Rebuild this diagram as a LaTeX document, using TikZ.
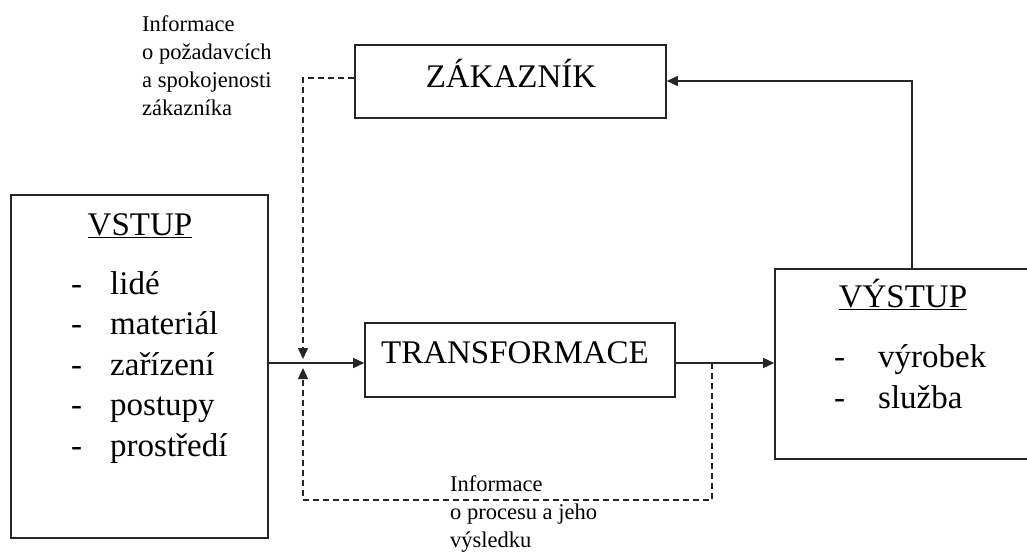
\documentclass[tikz,border=0pt]{standalone}
\usepackage{fontspec}
\setmainfont{Liberation Serif}
\usetikzlibrary{arrows.meta}
\tikzset{
  boxnode/.style={draw=black!85, line width=1.6pt, inner sep=0pt},
  big/.style={font=\fontsize{33}{40}\selectfont, inner sep=0pt},
  small/.style={font=\fontsize{22.5}{28}\selectfont, inner sep=0pt, align=left},
  conn/.style={draw=black!85, line width=1.5pt, -{Triangle[length=11pt,width=10pt]}},
  dconn/.style={draw=black!85, line width=1.4pt, dash pattern=on 6pt off 4pt, -{Triangle[length=11pt,width=10pt]}},
}
\begin{document}
\begin{tikzpicture}[x=1pt,y=-1pt]
\useasboundingbox[fill=white] (0,0) rectangle (1027,554);
% boxes
\node[boxnode, minimum width=257pt, minimum height=343pt] (vstup) at (139.5,366.5) {};
\node[boxnode, minimum width=311pt, minimum height=73pt] (zak) at (510.5,81.5) {};
\node[boxnode, minimum width=310pt, minimum height=74pt] (transf) at (520,360) {};
\node[boxnode, minimum width=265pt, minimum height=190pt] (vystup) at (907.5,364) {};
% box texts
\node[big, anchor=base] (zakt) at (511,87) {ZÁKAZNÍK};
\node[big, anchor=base] (transft) at (515,363) {TRANSFORMACE};
\node[big, anchor=base] (vstupt) at (140,235) {\underline{VSTUP}};
\node[big, anchor=base] (vystupt) at (903,307) {\underline{VÝSTUP}};
% VSTUP items
\foreach \t [count=\i from 0] in {lidé,materiál,zařízení,postupy,prostředí}{
  \node[big, anchor=base west] (vd\i) at (71,294+40.5*\i) {-};
  \node[big, anchor=base west] (vi\i) at (110,294+40.5*\i) {\t};
}
% VYSTUP items
\node[big, anchor=base west] (yd0) at (834,367) {-};
\node[big, anchor=base west] (yi0) at (878,367) {výrobek};
\node[big, anchor=base west] (yd1) at (834,408) {-};
\node[big, anchor=base west] (yi1) at (878,408) {služba};
% labels (base anchor = last line's baseline)
\node[small, anchor=base west] (lab1) at (142,115) {Informace\\o požadavcích\\a spokojenosti\\zákazníka};
\node[small, anchor=base west] (lab2) at (450,547) {Informace\\o procesu a jeho\\výsledku};
% coordinates
\coordinate (mainy) at (0,363);
\coordinate (upx) at (912,81);
\coordinate (dtip1) at (303,359);
\coordinate (dtip2) at (303,368);
\coordinate (fb) at (712,363);
\coordinate (bl) at (303,500);
\coordinate (zdy) at (0,78);
% connectors
\draw[conn] (vstup.east |- mainy) -- (transf.west |- mainy);
\draw[conn] (transf.east |- mainy) -- (vystup.west |- mainy);
\draw[conn] (vystup.north -| upx) |- (zak.east |- upx);
\draw[dconn] (zak.west |- zdy) -| (dtip1);
\draw[dconn] (fb) |- (bl) -- (dtip2);
\end{tikzpicture}
\end{document}
